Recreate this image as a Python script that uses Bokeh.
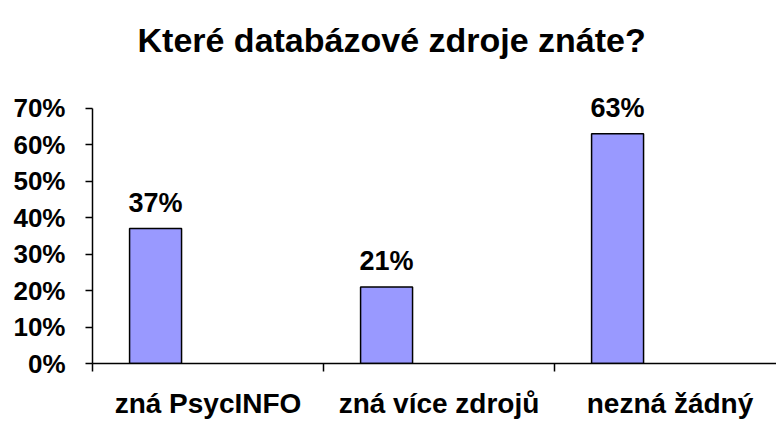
import numpy as np
from bokeh.plotting import figure
from bokeh.models import Range1d, FixedTicker, NumeralTickFormatter, ColumnDataSource
from bokeh.core.properties import value
from bokeh.embed import file_html
from bokeh.resources import INLINE

title = "Které databázové zdroje znáte?"
categories = ["zná PsycINFO", "zná více zdrojů", "nezná žádný"]
values = [0.37, 0.21, 0.63]
value_labels = ["37%", "21%", "63%"]
y_ticks = [0.0, 0.1, 0.2, 0.3, 0.4, 0.5, 0.6, 0.7]

FONT = "Liberation Sans"

idx = np.arange(len(categories))
centers = idx + 0.5
bar_x = centers - 0.227

src = ColumnDataSource(dict(x=bar_x, top=values, lab=value_labels))

p = figure(width=776, height=421, output_backend="svg", toolbar_location=None,
           x_range=Range1d(0, 2.961), y_range=Range1d(0, 0.8035),
           min_border_left=92, min_border_right=0, min_border_top=70,
           min_border_bottom=56)

p.title.text = title
p.title.align = "left"
p.title.text_font = FONT
p.title.text_font_style = "bold"
p.title.text_font_size = "34px"
p.title.text_color = "black"
p.title.offset = 45
p.title.standoff = 23

p.outline_line_color = None
p.xgrid.visible = False
p.ygrid.visible = False
p.background_fill_color = "white"
p.border_fill_color = "white"

p.vbar(x="x", top="top", width=0.225, bottom=0, source=src,
       fill_color="#9999FF", line_color="black", line_width=1.5)

p.text(x="x", y="top", text="lab", source=src, text_align="center",
       text_baseline="alphabetic", y_offset=-26,
       text_font=value(FONT), text_font_style="bold", text_font_size="27px",
       text_color="black")

# x axis
xa = p.xaxis[0]
xa.ticker = FixedTicker(ticks=list(centers), minor_ticks=list(np.arange(len(categories) + 1)))
xa.major_label_overrides = {float(c): cat for c, cat in zip(centers, categories)}
xa.major_tick_out = 0
xa.major_tick_in = 0
xa.minor_tick_out = 8
xa.minor_tick_in = 0
xa.minor_tick_line_color = "black"
xa.axis_line_color = "black"
xa.axis_line_width = 1.5
xa.minor_tick_line_width = 1.5
xa.major_label_text_font = FONT
xa.major_label_text_font_style = "bold"
xa.major_label_text_font_size = "28px"
xa.major_label_text_color = "black"
xa.major_label_standoff = 16

# y axis
ya = p.yaxis[0]
ya.ticker = FixedTicker(ticks=y_ticks)
ya.bounds = (0, 0.7)
ya.formatter = NumeralTickFormatter(format="0%")
ya.major_tick_out = 7
ya.major_tick_in = 0
ya.minor_tick_out = 0
ya.minor_tick_in = 0
ya.axis_line_color = "black"
ya.axis_line_width = 1.5
ya.major_tick_line_width = 1.5
ya.major_label_text_font = FONT
ya.major_label_text_font_style = "bold"
ya.major_label_text_font_size = "26px"
ya.major_label_text_color = "black"
ya.major_label_standoff = 20

open("out.html", "w").write(file_html(p, INLINE))
